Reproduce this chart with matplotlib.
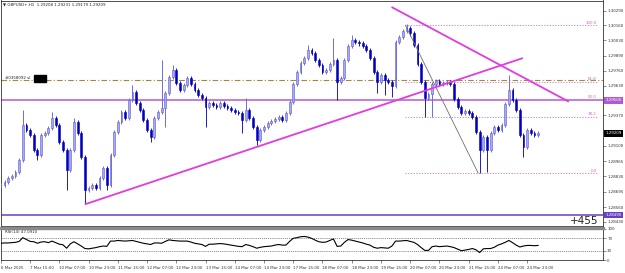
import matplotlib
matplotlib.use('Agg')
import matplotlib.pyplot as plt
from matplotlib.patches import Rectangle
import numpy as np

# ---------------- data (2-hour bars) ----------------
closes = [
    1.28754, 1.28780, 1.28815, 1.28833, 1.28868, 1.28973, 1.29280, 1.29237, 1.29193, 1.29061,
    1.29017, 1.29193, 1.29210, 1.29254, 1.29342, 1.29280, 1.29131, 1.29061, 1.28885, 1.29061,
    1.29307, 1.29210, 1.29000, 1.28710, 1.28727, 1.28754, 1.28727, 1.28815, 1.28903, 1.28754,
    1.29017, 1.29219, 1.29307, 1.29395, 1.29342, 1.29500, 1.29570, 1.29474, 1.29412, 1.29324,
    1.29237, 1.29175, 1.29342, 1.29395, 1.29430, 1.29561, 1.29702, 1.29763, 1.29649, 1.29588,
    1.29632, 1.29693, 1.29640, 1.29588, 1.29544, 1.29518, 1.29439, 1.29474, 1.29456, 1.29439,
    1.29474, 1.29447, 1.29430, 1.29412, 1.29395, 1.29386, 1.29324, 1.29412, 1.29342, 1.29263,
    1.29149, 1.29237, 1.29263, 1.29298, 1.29316, 1.29333, 1.29351, 1.29324, 1.29386, 1.29482,
    1.29640, 1.29746, 1.29825, 1.29869, 1.29939, 1.29913, 1.29851, 1.29807, 1.29746, 1.29763,
    1.29816, 1.29851, 1.29658, 1.29693, 1.29851, 1.29974, 1.30027, 1.30009, 1.30000, 1.29974,
    1.29939, 1.29869, 1.29746, 1.29658, 1.29719, 1.29676, 1.29658, 1.29623, 1.30009, 1.30053,
    1.30106, 1.30132, 1.30088, 1.29983, 1.29816, 1.29658, 1.29518, 1.29553, 1.29640, 1.29667,
    1.29640, 1.29649, 1.29658, 1.29640, 1.29509, 1.29439, 1.29386, 1.29403, 1.29386, 1.29351,
    1.29219, 1.29061, 1.29175, 1.29061, 1.29210, 1.29263, 1.29237, 1.29280, 1.29465, 1.29588,
    1.29500, 1.29412, 1.29193, 1.29087, 1.29237, 1.29210, 1.29193, 1.29210,
]
high_spikes = {6: 1.29412, 14: 1.29395, 20: 1.29342, 36: 1.29632, 44: 1.29851, 47: 1.29807,
               67: 1.29518, 84: 1.29983, 91: 1.30044, 96: 1.30071, 111: 1.30167, 139: 1.29719}
low_spikes = {10: 1.28973, 18: 1.28710, 23: 1.28587, 29: 1.28710, 41: 1.29131, 45: 1.29263,
              56: 1.29263, 66: 1.29210, 70: 1.29105, 92: 1.29500, 103: 1.29561, 105: 1.29544,
              107: 1.29526, 116: 1.29351, 118: 1.29351, 131: 1.28859, 133: 1.28870, 143: 1.29000}

rsi = [
    54, 55, 55, 56, 57, 60, 72, 66, 60, 59, 54, 58, 59, 56, 61, 56, 51, 49, 38, 52,
    59, 52, 45, 37, 36, 38, 40, 43, 45, 44, 61, 61, 63, 62, 61, 62, 63, 60, 57, 54,
    52, 50, 55, 55, 54, 60, 65, 63, 62, 61, 61, 61, 58, 54, 52, 50, 44, 51, 51, 52,
    53, 52, 50, 48, 46, 44, 43, 50, 47, 43, 38, 41, 43, 44, 45, 48, 50, 48, 48, 60,
    70, 72, 75, 76, 74, 70, 64, 59, 57, 58, 63, 68, 44, 45, 57, 66, 64, 61, 58, 55,
    51, 48, 41, 38, 40, 39, 38, 45, 61, 61, 62, 63, 60, 57, 50, 40, 31, 31, 43, 45,
    43, 44, 45, 43, 40, 35, 30, 32, 34, 37, 33, 24, 36, 37, 37, 41, 48, 52, 57, 63,
    56, 48, 42, 45, 47, 47, 46, 47,
]

time_labels = ["6 Mar 2025", "7 Mar 15:00", "10 Mar 07:00", "10 Mar 23:00", "11 Mar 15:00",
               "12 Mar 07:00", "12 Mar 23:00", "13 Mar 15:00", "14 Mar 07:00", "14 Mar 23:00",
               "17 Mar 15:00", "18 Mar 07:00", "18 Mar 23:00", "19 Mar 15:00", "20 Mar 07:00",
               "20 Mar 23:00", "21 Mar 15:00", "24 Mar 07:00", "24 Mar 23:00"]
price_ticks = [1.30290, 1.30160, 1.30030, 1.29890, 1.29760, 1.29630, 1.29370, 1.29100,
               1.28965, 1.28830, 1.28695, 1.28560, 1.28430]

asc_line = ([23.2, 142.6], [1.28587, 1.29869])
desc_line = ([107.1, 155.2], [1.30317, 1.29491])
fib_anchor = ([110.7, 130.6], [1.30160, 1.28859])
fib_levels = [100.0, 61.8, 50.0, 38.2, 0.0]
hline_purple = 1.29500
hline_bottom = 1.28490
sl_level = 1.29676
current_price = 1.29209

# ---------------- figure ----------------
W, H = 625, 273
fig = plt.figure(figsize=(W / 100, H / 100), dpi=100)
fig.patch.set_facecolor('white')
FS = 2.9

def rect(l, t, r, b):
    return [l / W, 1 - b / H, (r - l) / W, (b - t) / H]

ax = fig.add_axes(rect(0.5, 0.5, 603, 226))
axr = fig.add_axes(rect(0.5, 229, 603, 260))
PXB = 3.66
xmax = 603 / PXB
for a in (ax, axr):
    a.set_xlim(-0.1, xmax)
    for s in a.spines.values():
        s.set_linewidth(0.6)
        s.set_color('#333333')

ax.set_ylim(1.28394, 1.30378)

n = len(closes)
idx = np.arange(n)
opens = [closes[0]] + closes[:-1]
highs, lows = [], []
for i in range(n):
    o, c = opens[i], closes[i]
    highs.append(high_spikes.get(i, max(o, c) + 0.00018))
    lows.append(low_spikes.get(i, min(o, c) - 0.00018))

bull = [c >= o for o, c in zip(opens, closes)]
wcol = ['#6c6ce0' if b else '#1a1acc' for b in bull]
ax.vlines(idx, lows, highs, colors=wcol, lw=0.7, zorder=3)
bodies = [max(abs(c - o), 0.00004) for o, c in zip(opens, closes)]
bottoms = [min(o, c) for o, c in zip(opens, closes)]
ax.bar(idx, bodies, bottom=bottoms, width=0.5,
       color=['#a9a9f2' if b else '#0000c0' for b in bull],
       edgecolor=['#5a5ad8' if b else '#0000c0' for b in bull], linewidth=0.4, zorder=4)

# horizontal lines
ax.axhline(sl_level, color='#a08a3a', lw=0.8, ls=(0, (5, 2, 1, 2)), zorder=2)
ax.axhline(hline_purple, color='#b25ad6', lw=1.1, zorder=2)
ax.axhline(hline_bottom, color='#6b3fc4', lw=1.1, zorder=2)

# fibonacci
p100, p0 = fib_anchor[1]
xf0 = fib_anchor[0][0]
xf1 = 598 / PXB
for lv in fib_levels:
    pv = p0 + (p100 - p0) * lv / 100.0
    if lv != 50.0:
        ax.plot([xf0, xf1], [pv, pv], color='#d77ad7', lw=0.7, ls=(0, (1.2, 1.6)), zorder=2)
    ax.text(xf1 - 0.3, pv + 0.00004, f"{lv:.1f}", color='#cc66cc', fontsize=FS,
            ha='right', va='bottom', zorder=6)
ax.plot(fib_anchor[0], fib_anchor[1], color='#707070', lw=0.6, zorder=5)

# trend lines
ax.plot(asc_line[0], asc_line[1], color='#e23be2', lw=1.3, zorder=5)
ax.plot(desc_line[0], desc_line[1], color='#e23be2', lw=1.3, zorder=5)

# right axis
ax.yaxis.tick_right()
ax.set_yticks(price_ticks)
ax.set_yticklabels([f"{v:.5f}" for v in price_ticks])
ax.tick_params(axis='y', labelsize=FS, length=2, width=0.4, pad=1.0, colors='#333333')
ax.set_xticks([])

tr = ax.get_yaxis_transform()
for val, col in ((hline_purple, '#b25ad6'), (current_price, 'black'), (hline_bottom, '#6b3fc4')):
    ax.text(1.004, val, f"{val:.5f}", transform=tr, fontsize=FS, color='white',
            ha='left', va='center', clip_on=False,
            bbox=dict(boxstyle='square,pad=0.3', fc=col, ec='none'), zorder=10)
ax.text(0.992, hline_bottom - 0.00008, "+455", transform=tr, fontsize=7.5, color='#222222',
        ha='right', va='top', zorder=10)

# top-left texts
fig.text(3 / W, 1 - 5 / H, "\u25bc GBPUSD+,H1  1.29208 1.29231 1.29179 1.29209",
         fontsize=FS, color='#222222', ha='left', va='center')
ax.text(1.2, sl_level + 0.00005, "#0358092 sl", fontsize=FS, color='#222222',
        ha='left', va='bottom', zorder=6)
fig.patches.append(Rectangle((34 / W, 1 - 82 / H), 12 / W, 7 / H,
                             transform=fig.transFigure, color='black'))

# separator
fig.patches.append(Rectangle((0, 1 - 229 / H), 604 / W, 2.5 / H,
                             transform=fig.transFigure, color='#8a8a8a'))

# RSI panel
axr.set_ylim(0, 100)
axr.plot(idx, rsi, color='black', lw=0.8, zorder=3)
for lv in (70, 30):
    axr.axhline(lv, color='#555555', lw=0.5, ls=(0, (1.5, 1.5)), zorder=2)
axr.yaxis.tick_right()
axr.set_yticks([0, 30, 70, 100])
axr.set_yticklabels(["0", "30", "70", "100"])
axr.tick_params(axis='y', labelsize=FS, length=2, width=0.4, pad=1.0, colors='#333333')
axr.set_xticks([8 * k for k in range(len(time_labels))])
axr.set_xticklabels(time_labels, ha='left')
axr.tick_params(axis='x', labelsize=FS, length=2, width=0.4, pad=2, colors='#333333')
axr.text(0.008, 0.97, "RSI(14) 47.0910", transform=axr.transAxes, fontsize=FS,
         color='#222222', ha='left', va='top')

fig.savefig('out.png', dpi=100, facecolor='white')
